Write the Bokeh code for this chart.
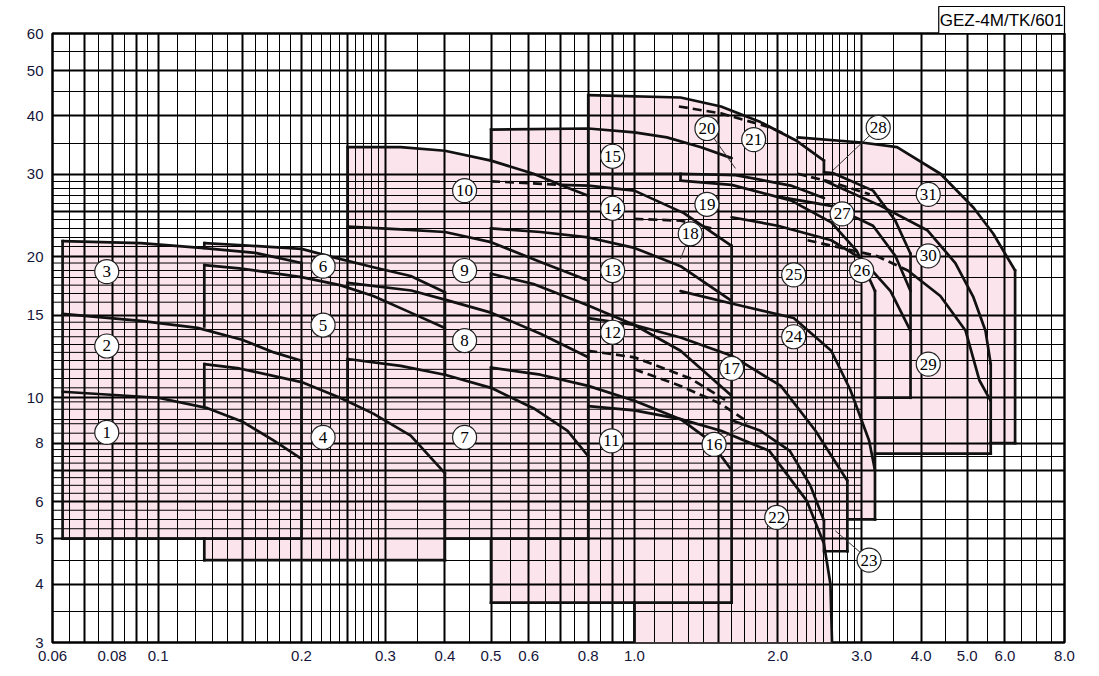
from bokeh.plotting import figure
from bokeh.models import FixedTicker
from bokeh.core.properties import value
from bokeh.embed import file_html
from bokeh.resources import INLINE

# ---------------- pump curves: capacity Q (m3/min) vs head H (m) ----------------
c1_q = [0.063, 0.10, 0.127, 0.15, 0.175, 0.2]
c1_h = [10.3, 10.0, 9.5, 8.9, 8.1, 7.4]
c2_q = [0.063, 0.092, 0.121, 0.15, 0.175, 0.2]
c2_h = [15.1, 14.6, 14.1, 13.3, 12.5, 12.0]
c3_q = [0.063, 0.092, 0.123, 0.16, 0.2]
c3_h = [21.6, 21.4, 20.9, 20.4, 19.4]
c4_q = [0.125, 0.148, 0.2, 0.241, 0.283, 0.339, 0.4]
c4_h = [11.8, 11.55, 10.8, 10.0, 9.25, 8.3, 6.9]
c5_q = [0.125, 0.148, 0.2, 0.241, 0.283, 0.339, 0.4]
c5_h = [19.2, 18.9, 18.1, 17.4, 16.5, 15.2, 14.1]
c6_q = [0.125, 0.148, 0.2, 0.227, 0.283, 0.339, 0.4]
c6_h = [21.4, 21.2, 20.8, 20.1, 19.0, 18.2, 16.8]
c7_q = [0.25, 0.323, 0.4, 0.5, 0.614, 0.724, 0.8]
c7_h = [12.1, 11.7, 11.2, 10.5, 9.5, 8.5, 7.5]
c8_q = [0.25, 0.34, 0.4, 0.5, 0.635, 0.8]
c8_h = [17.6, 16.95, 16.2, 15.2, 13.7, 12.2]
c9_q = [0.25, 0.323, 0.4, 0.5, 0.635, 0.8]
c9_h = [23.2, 22.9, 22.6, 21.5, 19.5, 17.8]
c10_q = [0.25, 0.323, 0.4, 0.5, 0.614, 0.724, 0.8]
c10_h = [34.3, 34.3, 33.7, 32.1, 30.1, 28.1, 27.0]
c11_q = [0.5, 0.635, 0.8, 1.0, 1.25, 1.44, 1.6]
c11_h = [11.6, 11.2, 10.6, 9.85, 9.0, 8.1, 7.0]
c12_q = [0.5, 0.614, 0.8, 1.0, 1.25, 1.6]
c12_h = [18.4, 17.5, 15.75, 14.3, 12.6, 10.1]
c13_q = [0.5, 0.635, 0.8, 1.0, 1.25, 1.6]
c13_h = [23.0, 22.6, 22.0, 20.9, 19.1, 16.1]
c14_q = [0.7, 0.8, 1.0, 1.27, 1.6]
c14_h = [28.5, 28.4, 27.7, 24.8, 21.1]
c15_q = [0.5, 0.8, 1.0, 1.17, 1.38, 1.6]
c15_h = [37.4, 37.6, 36.9, 36.0, 34.3, 32.5]
c16_q = [0.8, 1.0, 1.25, 1.52, 1.92, 2.3, 2.5, 2.58, 2.6]
c16_h = [9.6, 9.4, 9.0, 8.5, 7.7, 6.03, 4.88, 4.0, 3.0]
c17_q = [0.8, 1.0, 1.25, 1.6, 2.03, 2.4, 2.71, 2.8]
c17_h = [14.8, 14.3, 13.45, 12.3, 10.6, 8.5, 7.0, 6.65]
c20_q = [0.8, 1.25, 1.63, 2.13, 2.5]
c20_h = [30.1, 30.1, 29.9, 28.4, 26.7]
c21_q = [0.8, 1.25, 1.52, 1.84, 2.18, 2.5]
c21_h = [44.3, 43.8, 41.9, 38.8, 35.5, 32.1]
c23_q = [1.6, 1.84, 2.12, 2.34, 2.5]
c23_h = [8.95, 8.5, 7.7, 6.5, 5.47]
c24_q = [1.25, 1.6, 2.16, 2.59, 2.84, 3.11, 3.2]
c24_h = [16.9, 15.9, 14.8, 12.6, 10.4, 8.1, 7.0]
c25_q = [1.25, 1.6, 2.13, 2.59, 2.93, 3.2]
c25_h = [29.1, 28.5, 26.4, 23.7, 20.6, 16.9]
c26_q = [1.6, 2.0, 2.59, 3.0, 3.45, 3.8]
c26_h = [24.3, 23.3, 21.7, 19.8, 16.9, 13.9]
c27_q = [2.0, 2.59, 3.17, 3.53, 3.8]
c27_h = [26.9, 25.7, 23.3, 20.1, 16.9]
c28_q = [2.5, 2.61, 3.17, 3.53, 3.8]
c28_h = [30.3, 30.2, 27.7, 23.9, 20.3]
c29_q = [3.75, 4.39, 4.96, 5.3, 5.6]
c29_h = [18.7, 16.5, 13.9, 10.9, 9.85]
c30_q = [2.5, 3.29, 4.12, 4.72, 5.15, 5.46, 5.6]
c30_h = [29.1, 25.7, 22.8, 19.4, 16.4, 13.9, 11.8]
c31_q = [2.2, 3.0, 3.56, 4.39, 5.15, 5.67, 6.3]
c31_h = [36.0, 35.1, 34.3, 30.1, 25.5, 22.4, 18.7]

# dashed (trimmed impeller) curves
d14_q = [0.5, 0.7]
d14_h = [29.0, 28.5]
d12_q = [0.8, 1.0, 1.31, 1.55]
d12_h = [12.6, 12.2, 11.0, 9.9]
d16_q = [1.0, 1.25, 1.52, 1.71]
d16_h = [11.5, 10.6, 9.7, 8.95]
d18_q = [1.0, 1.25, 1.45]
d18_h = [24.1, 23.9, 23.0]
d21_q = [1.24, 1.52, 1.93, 2.1]
d21_h = [41.9, 40.5, 37.8, 36.3]
d27_q = [2.2, 2.59, 3.12]
d27_h = [30.1, 28.9, 27.2]
d29_q = [2.31, 3.22, 3.75]
d29_h = [21.7, 20.1, 18.7]

# ---------------- range outlines (straight edges) ----------------
edge_q0 = [0.063, 0.063, 0.2, 0.2,
           0.125, 0.125, 0.125, 0.125, 0.125, 0.4, 0.4,
           0.25, 0.25, 0.25, 0.4, 0.8,
           0.5, 0.5, 0.5, 0.5, 0.5, 0.5, 1.6,
           0.8, 1.0, 2.5,
           2.52, 2.8, 2.5,
           1.25, 2.8, 3.2,
           3.2, 3.8,
           3.2, 5.6, 5.6, 6.3]
edge_h0 = [5.0, 5.0, 5.0, 18.1,
           4.5, 9.55, 14.2, 20.9, 4.5, 4.5, 11.2,
           19.8, 17.3, 9.85, 5.0, 5.0,
           3.65, 10.5, 15.2, 21.5, 32.1, 3.65, 3.65,
           27.0, 3.0, 30.3,
           4.7, 4.7, 4.7,
           29.1, 5.5, 5.5,
           10.0, 10.0,
           7.6, 7.6, 8.0, 8.0]
edge_q1 = [0.063, 0.2, 0.2, 0.2,
           0.125, 0.125, 0.125, 0.125, 0.4, 0.4, 0.4,
           0.25, 0.25, 0.25, 0.8, 0.8,
           0.5, 0.5, 0.5, 0.5, 0.5, 1.6, 1.6,
           0.8, 1.0, 2.5,
           2.8, 2.8, 2.5,
           1.25, 3.2, 3.2,
           3.8, 3.8,
           5.6, 5.6, 6.3, 6.3]
edge_h1 = [21.6, 5.0, 12.0, 19.4,
           5.0, 11.8, 19.2, 21.4, 4.5, 6.9, 16.8,
           34.3, 17.6, 12.1, 5.0, 27.0,
           5.0, 11.6, 18.4, 23.0, 37.4, 3.65, 21.1,
           44.3, 3.65, 32.1,
           4.7, 6.65, 5.47,
           30.1, 5.5, 16.9,
           10.0, 20.3,
           7.6, 11.8, 8.0, 18.7]

# ---------------- circled pump numbers ----------------
label_txt = [str(i) for i in range(1, 32)]
label_q = [0.078, 0.078, 0.078, 0.222, 0.222, 0.222, 0.44, 0.44, 0.44, 0.44,
           0.895, 0.9, 0.9, 0.9, 0.9, 1.47, 1.6, 1.31, 1.42, 1.42,
           1.78, 1.99, 3.11, 2.16, 2.16, 3.0, 2.73, 3.25, 4.14, 4.14, 4.14]
label_h = [8.43, 12.9, 18.6, 8.23, 14.3, 19.1, 8.23, 13.25, 18.7, 27.7,
           8.09, 13.8, 18.7, 25.4, 32.8, 7.95, 11.55, 22.4, 25.9, 37.6,
           35.6, 5.55, 4.5, 13.5, 18.3, 18.7, 24.7, 37.8, 11.8, 20.1, 27.2]

# leader lines (label -> curve)
lead_q0 = [1.47, 1.31, 1.42, 3.11, 3.25]
lead_h0 = [7.95, 22.4, 37.6, 4.5, 37.8]
lead_q1 = [1.73, 1.25, 1.63, 2.64, 2.61]
lead_h1 = [8.9, 19.8, 30.9, 5.2, 30.6]

# ---------------- axes / chart paper ----------------
x_major = [0.06, 0.07, 0.08, 0.09, 0.1, 0.15, 0.2, 0.25, 0.3, 0.4, 0.5, 0.6, 0.7,
           0.8, 0.9, 1.0, 1.5, 2.0, 3.0, 4.0, 5.0, 6.0, 8.0]
x_minor = [0.065, 0.075, 0.085, 0.095, 0.11, 0.12, 0.13, 0.14, 0.16, 0.17, 0.18, 0.19,
           0.21, 0.22, 0.23, 0.24, 0.26, 0.27, 0.28, 0.29, 0.35, 0.45, 0.55, 0.65,
           0.75, 0.85, 0.95, 1.1, 1.2, 1.3, 1.4, 1.6, 1.7, 1.8, 1.9, 2.1, 2.2, 2.3,
           2.4, 2.5, 2.6, 2.7, 2.8, 2.9, 3.5, 4.5, 5.5, 6.5, 7.0, 7.5]
x_labels = {0.06: "0.06", 0.07: "", 0.08: "0.08", 0.09: "", 0.1: "0.1", 0.15: "",
            0.2: "0.2", 0.25: "", 0.3: "0.3", 0.4: "0.4", 0.5: "0.5", 0.6: "0.6",
            0.7: "", 0.8: "0.8", 0.9: "", 1.0: "1.0", 1.5: "", 2.0: "2.0",
            3.0: "3.0", 4.0: "4.0", 5.0: "5.0", 6.0: "6.0", 8.0: "8.0"}
y_major = [3, 4, 5, 6, 7, 8, 10, 15, 20, 25, 30, 40, 50, 60]
y_minor = [3.5, 4.5, 5.5, 7.5, 9.0, 11, 12, 13, 14, 18.1, 21, 22, 23, 24, 26, 27,
           28, 29, 35, 45, 55]
# finer head lines that only run across the left part of the sheet
y_fine = [5.25, 5.75, 6.25, 6.5, 6.75, 7.25, 7.75, 8.4, 8.8, 9.45, 9.8, 10.5, 11.5,
          12.5, 13.5, 14.5, 16.0, 16.7, 17.4, 18.7, 19.4]
y_fine_q0 = 0.06
y_fine_q1 = 3.0
y_labels = {3: "3", 4: "4", 5: "5", 6: "6", 7: "", 8: "8", 10: "10", 15: "15",
            20: "20", 25: "", 30: "30", 40: "40", 50: "50", 60: "60"}
chart_code = "GEZ-4M/TK/601"

PINK = "#fce4ec"
INK = "#111111"
LW = 2.7

p = figure(width=1099, height=676, x_axis_type="log", y_axis_type="log",
           x_range=(0.06, 8.0), y_range=(3, 60), output_backend="svg",
           toolbar_location=None, min_border_left=52, min_border_right=35,
           min_border_top=33, min_border_bottom=34)
p.background_fill_color = "white"
p.border_fill_color = "white"
p.outline_line_color = "black"
p.outline_line_width = 2.5

# chart code in a small box above the top-right corner
p.title.text = chart_code
p.title.align = "right"
p.title.text_font = "Liberation Sans"
p.title.text_font_style = "normal"
p.title.text_font_size = "17px"
p.title.text_color = "black"
p.title.border_line_color = "black"
p.title.border_line_width = 1.2
p.title.background_fill_color = "white"
p.title.standoff = 0
p.title.offset = 0
p.title.padding = (1, 4)

xt = FixedTicker(ticks=x_major, minor_ticks=x_minor)
yt = FixedTicker(ticks=y_major, minor_ticks=y_minor)
p.xaxis.ticker = xt
p.yaxis.ticker = yt
p.xgrid.ticker = xt
p.ygrid.ticker = yt
for g in (p.xgrid, p.ygrid):
    g.grid_line_color = "black"
    g.grid_line_width = 2
    g.grid_line_alpha = 1.0
    g.minor_grid_line_color = "black"
    g.minor_grid_line_width = 1
    g.minor_grid_line_alpha = 1.0
p.xaxis.major_label_overrides = x_labels
p.yaxis.major_label_overrides = y_labels
for ax in (p.xaxis, p.yaxis):
    ax.axis_line_color = None
    ax.major_tick_line_color = None
    ax.minor_tick_line_color = None
    ax.major_tick_out = 0
    ax.minor_tick_out = 0
    ax.major_label_text_font = "Liberation Sans"
    ax.major_label_text_font_size = "15px"
    ax.major_label_text_color = "#15153a"
p.xaxis.major_label_standoff = 8
p.yaxis.major_label_standoff = 9

# ---------------- pink envelopes (drawn under the grid) ----------------
def envelope(cq, ch, floor):
    return [cq[0]] + cq + [cq[-1]], [floor] + ch + [floor]

env_xs, env_ys = [], []
for cq, ch, fl in ((c3_q, c3_h, 5.0), (c6_q, c6_h, 4.5), (c10_q, c10_h, 5.0),
                   (c15_q, c15_h, 3.65), (c25_q, c25_h, 5.5), (c28_q, c28_h, 10.0)):
    ex, ey = envelope(cq, ch, fl)
    env_xs.append(ex)
    env_ys.append(ey)
env_xs.append([0.8] + c21_q + [c21_q[-1]] + c16_q[-3:] + [1.0, 1.0, 0.8])
env_ys.append([3.65] + c21_h + [30.3] + c16_h[-3:] + [3.0, 3.65, 3.65])
env_xs.append([2.5, 2.8, 2.8, 2.5])
env_ys.append([4.7, 4.7, 7.0, 7.0])
env_xs.append([c31_q[0]] + c31_q + [6.3, 5.6, 5.6])
env_ys.append([7.6] + c31_h + [8.0, 8.0, 7.6])
p.patches(env_xs, env_ys, fill_color=PINK, line_color=None, level="image")

# fine grid lines of the left part of the sheet
p.segment(x0=[y_fine_q0] * len(y_fine), y0=y_fine, x1=[y_fine_q1] * len(y_fine),
          y1=y_fine, line_color="black", line_width=1, level="underlay")

# ---------------- curves and outlines ----------------
solid = [(c1_q, c1_h), (c2_q, c2_h), (c3_q, c3_h), (c4_q, c4_h), (c5_q, c5_h),
         (c6_q, c6_h), (c7_q, c7_h), (c8_q, c8_h), (c9_q, c9_h), (c10_q, c10_h),
         (c11_q, c11_h), (c12_q, c12_h), (c13_q, c13_h), (c14_q, c14_h),
         (c15_q, c15_h), (c16_q, c16_h), (c17_q, c17_h), (c20_q, c20_h),
         (c21_q, c21_h), (c23_q, c23_h), (c24_q, c24_h), (c25_q, c25_h),
         (c26_q, c26_h), (c27_q, c27_h), (c28_q, c28_h), (c29_q, c29_h),
         (c30_q, c30_h), (c31_q, c31_h)]
dashed = [(d14_q, d14_h), (d12_q, d12_h), (d16_q, d16_h), (d18_q, d18_h),
          (d21_q, d21_h), (d27_q, d27_h), (d29_q, d29_h)]

p.segment(x0=edge_q0, y0=edge_h0, x1=edge_q1, y1=edge_h1,
          line_color=INK, line_width=LW, line_cap="square")
p.multi_line([s[0] for s in solid], [s[1] for s in solid],
             line_color=INK, line_width=LW, line_cap="round", line_join="round")
p.multi_line([s[0] for s in dashed], [s[1] for s in dashed],
             line_color=INK, line_width=LW, line_dash="9 5")
p.segment(x0=lead_q0, y0=lead_h0, x1=lead_q1, y1=lead_h1,
          line_color="#333333", line_width=1)

p.scatter(label_q, label_h, marker="circle", size=24, fill_color="white",
          line_color="#222222", line_width=1.2)
p.text(label_q, label_h, text=label_txt, text_align="center", text_baseline="middle",
       text_font=value("Liberation Sans Narrow"), text_font_size="17px", text_color="black")

open("out.html", "w").write(file_html(p, INLINE))
